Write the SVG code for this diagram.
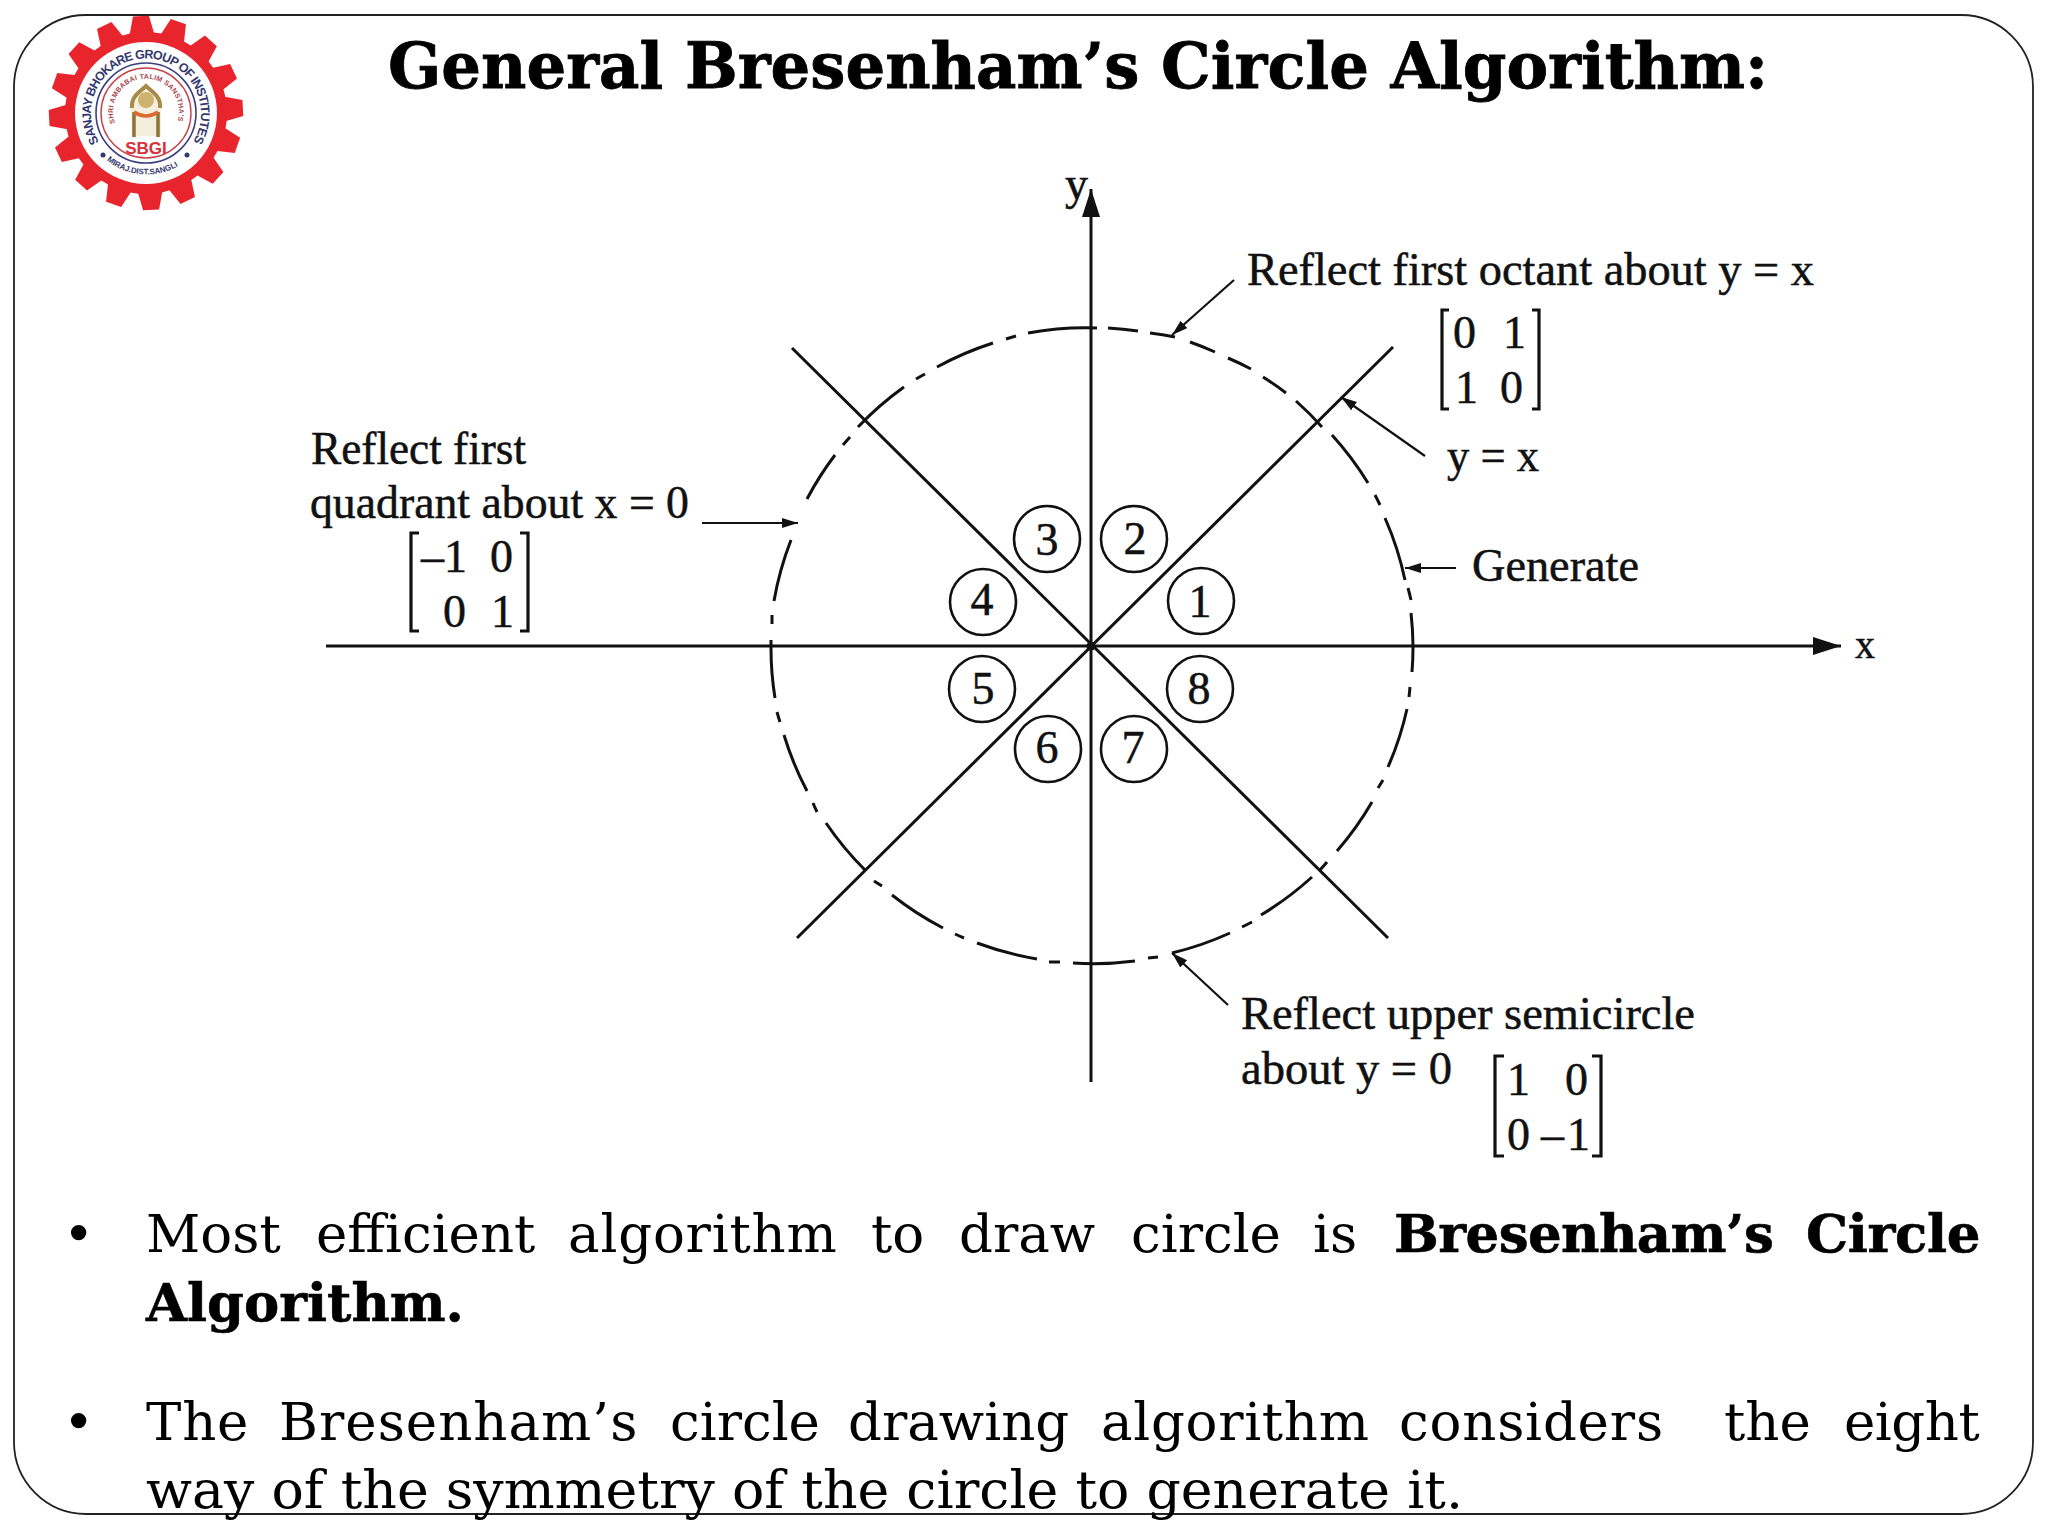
<svg xmlns="http://www.w3.org/2000/svg" xmlns:xlink="http://www.w3.org/1999/xlink" width="2048" height="1536" viewBox="0 0 2048 1536">
<style>
.d{font-family:"Liberation Serif","Times New Roman",serif;font-size:46px;fill:#111;stroke:#111;stroke-width:.5}
.n{text-anchor:middle}
.ln{fill:none;stroke:#111;stroke-width:3}
.thin{fill:none;stroke:#111;stroke-width:2.2}
.br{fill:none;stroke:#111;stroke-width:3.2}
.num{fill:#fff;stroke:#111;stroke-width:2.6}
.b{font-family:"DejaVu Serif",serif;font-size:53px;fill:#000}
.bb{font-weight:700;stroke:#000;stroke-width:.6}
.lg{font-family:"Liberation Sans",Arial,sans-serif;font-weight:700}
</style>
<defs>
<marker id="ah" markerUnits="userSpaceOnUse" markerWidth="30" markerHeight="20" refX="28" refY="9" orient="auto"><path d="M0 0 L28 9 L0 18 Z" fill="#111"/></marker>
<marker id="sh" markerUnits="userSpaceOnUse" markerWidth="18" markerHeight="12" refX="16" refY="5" orient="auto"><path d="M0 0 L16 5 L0 10 Z" fill="#111"/></marker>
<polygon id="tooth" points="-12.500,-78 -8,-97 8,-97 12.500,-78" fill="#e8242d"/>
<path id="arcOuter" d="M99 142 A55 55 0 1 1 193 142"/>
<path id="arcInner" d="M115 123 A33 33 0 1 1 177 123"/>
<path id="arcBottom" d="M103 157 A63 63 0 0 0 190 157"/>
</defs>
<rect width="2048" height="1536" fill="#fff"/>
<rect id="frame" x="14" y="15" width="2019" height="1499" rx="72" ry="72" fill="none" stroke="#222" stroke-width="1.800"/>

<g id="logo">
<circle cx="146" cy="113" r="81" fill="#e8242d"/>
<g transform="translate(146 113)">
<use xlink:href="#tooth" href="#tooth" transform="rotate(-3)"/><use xlink:href="#tooth" href="#tooth" transform="rotate(19.500)"/><use xlink:href="#tooth" href="#tooth" transform="rotate(42)"/><use xlink:href="#tooth" href="#tooth" transform="rotate(64.500)"/><use xlink:href="#tooth" href="#tooth" transform="rotate(87)"/><use xlink:href="#tooth" href="#tooth" transform="rotate(109.500)"/><use xlink:href="#tooth" href="#tooth" transform="rotate(132)"/><use xlink:href="#tooth" href="#tooth" transform="rotate(154.500)"/><use xlink:href="#tooth" href="#tooth" transform="rotate(177)"/><use xlink:href="#tooth" href="#tooth" transform="rotate(199.500)"/><use xlink:href="#tooth" href="#tooth" transform="rotate(222)"/><use xlink:href="#tooth" href="#tooth" transform="rotate(244.500)"/><use xlink:href="#tooth" href="#tooth" transform="rotate(267)"/><use xlink:href="#tooth" href="#tooth" transform="rotate(289.500)"/><use xlink:href="#tooth" href="#tooth" transform="rotate(312)"/><use xlink:href="#tooth" href="#tooth" transform="rotate(334.500)"/>
</g>
<circle cx="146" cy="113" r="71" fill="#fff"/>
<circle cx="146" cy="113" r="50" fill="none" stroke="#3a3f80" stroke-width="1.600"/>
<circle cx="146" cy="113" r="45" fill="none" stroke="#c8404a" stroke-width="1.400"/>
<text class="lg" font-size="12.500" fill="#34386f"><textPath href="#arcOuter" textLength="232" lengthAdjust="spacing">SANJAY BHOKARE GROUP OF INSTITUTES</textPath></text>
<text class="lg" font-size="7" fill="#a8474f"><textPath href="#arcInner" textLength="124" lengthAdjust="spacing">SHRI AMBABAI TALIM SANSTHA'S</textPath></text>
<text class="lg" font-size="8" fill="#34386f"><textPath href="#arcBottom" textLength="76" lengthAdjust="spacing" startOffset="5">MIRAJ.DIST.SANGLI</textPath></text>
<circle cx="103" cy="155" r="2.500" fill="#34386f"/><circle cx="187" cy="155" r="2.500" fill="#34386f"/>
<path d="M131 136 V104 C131 96 138 92 146 85 C154 92 161 96 161 104 V136 Z" fill="#f3efdc"/>
<path d="M132 108 C131 97 138 93 146 86 C154 93 161 97 160 108" fill="none" stroke="#a88a4a" stroke-width="4"/>
<path d="M134 112 V137 M158 112 V137" stroke="#8f7236" stroke-width="3.500" fill="none"/>
<path d="M134 112 Q146 120 158 112" stroke="#dd6a2f" stroke-width="3.500" fill="none"/>
<ellipse cx="146" cy="100" rx="8" ry="8" fill="#cdb36e"/>
<text class="lg" x="146" y="154" font-size="17" fill="#d8303a" text-anchor="middle">SBGI</text>
</g>

<g id="title"><text x="388" y="88" textLength="1380" lengthAdjust="spacingAndGlyphs" font-family="'DejaVu Serif',serif" font-weight="700" font-size="64" fill="#000" stroke="#000" stroke-width=".8">General Bresenham’s Circle Algorithm:</text></g>

<g id="connectors">
<path class="ln" id="axis-x" d="M326 646 H1841" marker-end="url(#ah)"/>
<path class="ln" id="axis-y" d="M1091 1082 V189" marker-end="url(#ah)"/>
<path class="ln" d="M792 348 L1388 938"/>
<path class="ln" d="M1393 347 L797 938"/>
<circle cx="1091" cy="646" r="4.500" fill="#111"/>
<path class="ln" id="circle-dashed" d="M807 499A321 318 0 0 1 835 455M843 445A321 318 0 0 1 850 437M858 427A321 318 0 0 1 904 387M916 379A321 318 0 0 1 925 374M937 367A321 318 0 0 1 993 343M1006 339A321 318 0 0 1 1016 336M1028 333A321 318 0 0 1 1097 328M1108 328A321 318 0 0 1 1138 331M1150 333A321 318 0 0 1 1175 337M1190 342A321 318 0 0 1 1215 352M1228 358A321 318 0 0 1 1251 369M1263 377A321 318 0 0 1 1286 393M1296 401A321 318 0 0 1 1322 427M1332 435A321 318 0 0 1 1368 483M1375 495A321 318 0 0 1 1380 505M1385 518A321 318 0 0 1 1405 580M1408 588A321 318 0 0 1 1411 600M1411 613A321 318 0 0 1 1413 646M774 601A321 318 0 0 1 791 540M772 624L772 615M771 646L771 640M771 646A321 318 0 0 0 775 698M777 712A321 318 0 0 0 780 722M784 735A321 318 0 0 0 807 791M813 803A321 318 0 0 0 817 812M826 823A321 318 0 0 0 865 870M874 881A321 318 0 0 0 882 886M892 895A321 318 0 0 0 943 928M955 934A321 318 0 0 0 964 938M977 943A321 318 0 0 0 1037 959M1049 962A321 318 0 0 0 1060 962M1073 963A321 318 0 0 0 1135 961M1148 958A321 318 0 0 0 1158 957M1172 953A321 318 0 0 0 1230 933M1242 927A321 318 0 0 0 1252 922M1261 915A321 318 0 0 0 1312 877M1320 870A321 318 0 0 0 1327 862M1337 851A321 318 0 0 0 1372 802M1378 788A321 318 0 0 0 1383 780M1388 767A321 318 0 0 0 1407 709M1409 697A321 318 0 0 0 1410 687M1412 672A321 318 0 0 0 1413 646"/>
<path class="thin" d="M702 523 H798" marker-end="url(#sh)"/>
<path class="thin" d="M1234 280 L1172 335" marker-end="url(#sh)"/>
<path class="thin" d="M1425 456 L1341 397" marker-end="url(#sh)"/>
<path class="thin" d="M1456 568 H1405" marker-end="url(#sh)"/>
<path class="thin" d="M1228 1005 L1172 953" marker-end="url(#sh)"/>
</g>

<g id="octants">
<g id="n3"><circle class="num" cx="1047" cy="539" r="33"/><text class="d n" x="1047" y="555">3</text></g>
<g id="n2"><circle class="num" cx="1134" cy="539" r="33"/><text class="d n" x="1135" y="554">2</text></g>
<g id="n1"><circle class="num" cx="1201" cy="601" r="33"/><text class="d n" x="1200" y="617">1</text></g>
<g id="n4"><circle class="num" cx="983" cy="602" r="33"/><text class="d n" x="982" y="615">4</text></g>
<g id="n5"><circle class="num" cx="982" cy="689" r="33"/><text class="d n" x="983" y="704">5</text></g>
<g id="n8"><circle class="num" cx="1200" cy="689" r="33"/><text class="d n" x="1199" y="704">8</text></g>
<g id="n6"><circle class="num" cx="1048" cy="749" r="33"/><text class="d n" x="1047" y="763">6</text></g>
<g id="n7"><circle class="num" cx="1134" cy="749" r="33"/><text class="d n" x="1133" y="763">7</text></g>
</g>

<g id="labels">
<text class="d" x="1065" y="199">y</text>
<text class="d" x="1855" y="658" font-size="40" style="font-size:40px">x</text>
<text class="d" x="1247" y="285" textLength="567" lengthAdjust="spacingAndGlyphs">Reflect first octant about y = x</text>
<text class="d" x="1447" y="471" textLength="92" lengthAdjust="spacingAndGlyphs">y = x</text>
<text class="d" x="1472" y="581" textLength="167" lengthAdjust="spacingAndGlyphs">Generate</text>
<text class="d" x="311" y="464" textLength="215" lengthAdjust="spacingAndGlyphs">Reflect first</text>
<text class="d" x="310" y="518" textLength="379" lengthAdjust="spacingAndGlyphs">quadrant about x = 0</text>
<text class="d" x="1241" y="1029" textLength="454" lengthAdjust="spacingAndGlyphs">Reflect upper semicircle</text>
<text class="d" x="1241" y="1084" textLength="211" lengthAdjust="spacingAndGlyphs">about y = 0</text>

<g id="matrix-y">
<path class="br" d="M1449 310 H1442 V409 H1449 M1532 310 H1539 V409 H1532"/>
<text class="d" x="1453" y="348">0</text><text class="d" x="1503" y="348">1</text>
<text class="d" x="1455" y="403">1</text><text class="d" x="1500" y="403">0</text>
</g>
<g id="matrix-x">
<path class="br" d="M419 533 H411 V631 H419 M520 533 H528 V631 H520"/>
<text class="d" x="421" y="572">–1</text><text class="d" x="490" y="572">0</text>
<text class="d" x="443" y="627">0</text><text class="d" x="491" y="627">1</text>
</g>
<g id="matrix-z">
<path class="br" d="M1504 1056 H1495 V1156 H1504 M1592 1056 H1601 V1156 H1592"/>
<text class="d" x="1507" y="1095">1</text><text class="d" x="1565" y="1095">0</text>
<text class="d" x="1507" y="1150">0</text><text class="d" x="1541" y="1150">–</text><text class="d" x="1567" y="1150">1</text>
</g>
</g>

<g id="body">
<text class="b" x="63" y="1252" font-family="'Liberation Sans',sans-serif">•</text>
<text class="b" y="1252"><tspan x="146">Most</tspan> <tspan x="316">efficient</tspan> <tspan x="568" letter-spacing=".8">algorithm</tspan> <tspan x="871">to</tspan> <tspan x="959">draw</tspan> <tspan x="1131">circle</tspan> <tspan x="1313">is</tspan> <tspan x="1394" class="bb" letter-spacing="-.6">Bresenham’s</tspan> <tspan x="1806" class="bb" letter-spacing="-.4">Circle</tspan></text>
<text class="b bb" x="146" y="1321" textLength="318" lengthAdjust="spacingAndGlyphs">Algorithm.</text>
<text class="b" x="63" y="1440" font-family="'Liberation Sans',sans-serif">•</text>
<text class="b" y="1440"><tspan x="146" letter-spacing=".8">The</tspan> <tspan x="279" letter-spacing="1">Bresenham’s</tspan> <tspan x="670">circle</tspan> <tspan x="848">drawing</tspan> <tspan x="1101" letter-spacing=".7">algorithm</tspan> <tspan x="1399" letter-spacing=".8">considers</tspan> <tspan x="1724">the</tspan> <tspan x="1844" letter-spacing="-.5">eight</tspan></text>
<text class="b" x="146" y="1508" textLength="1317" lengthAdjust="spacingAndGlyphs">way of the symmetry of the circle to generate it.</text>
</g>
</svg>
